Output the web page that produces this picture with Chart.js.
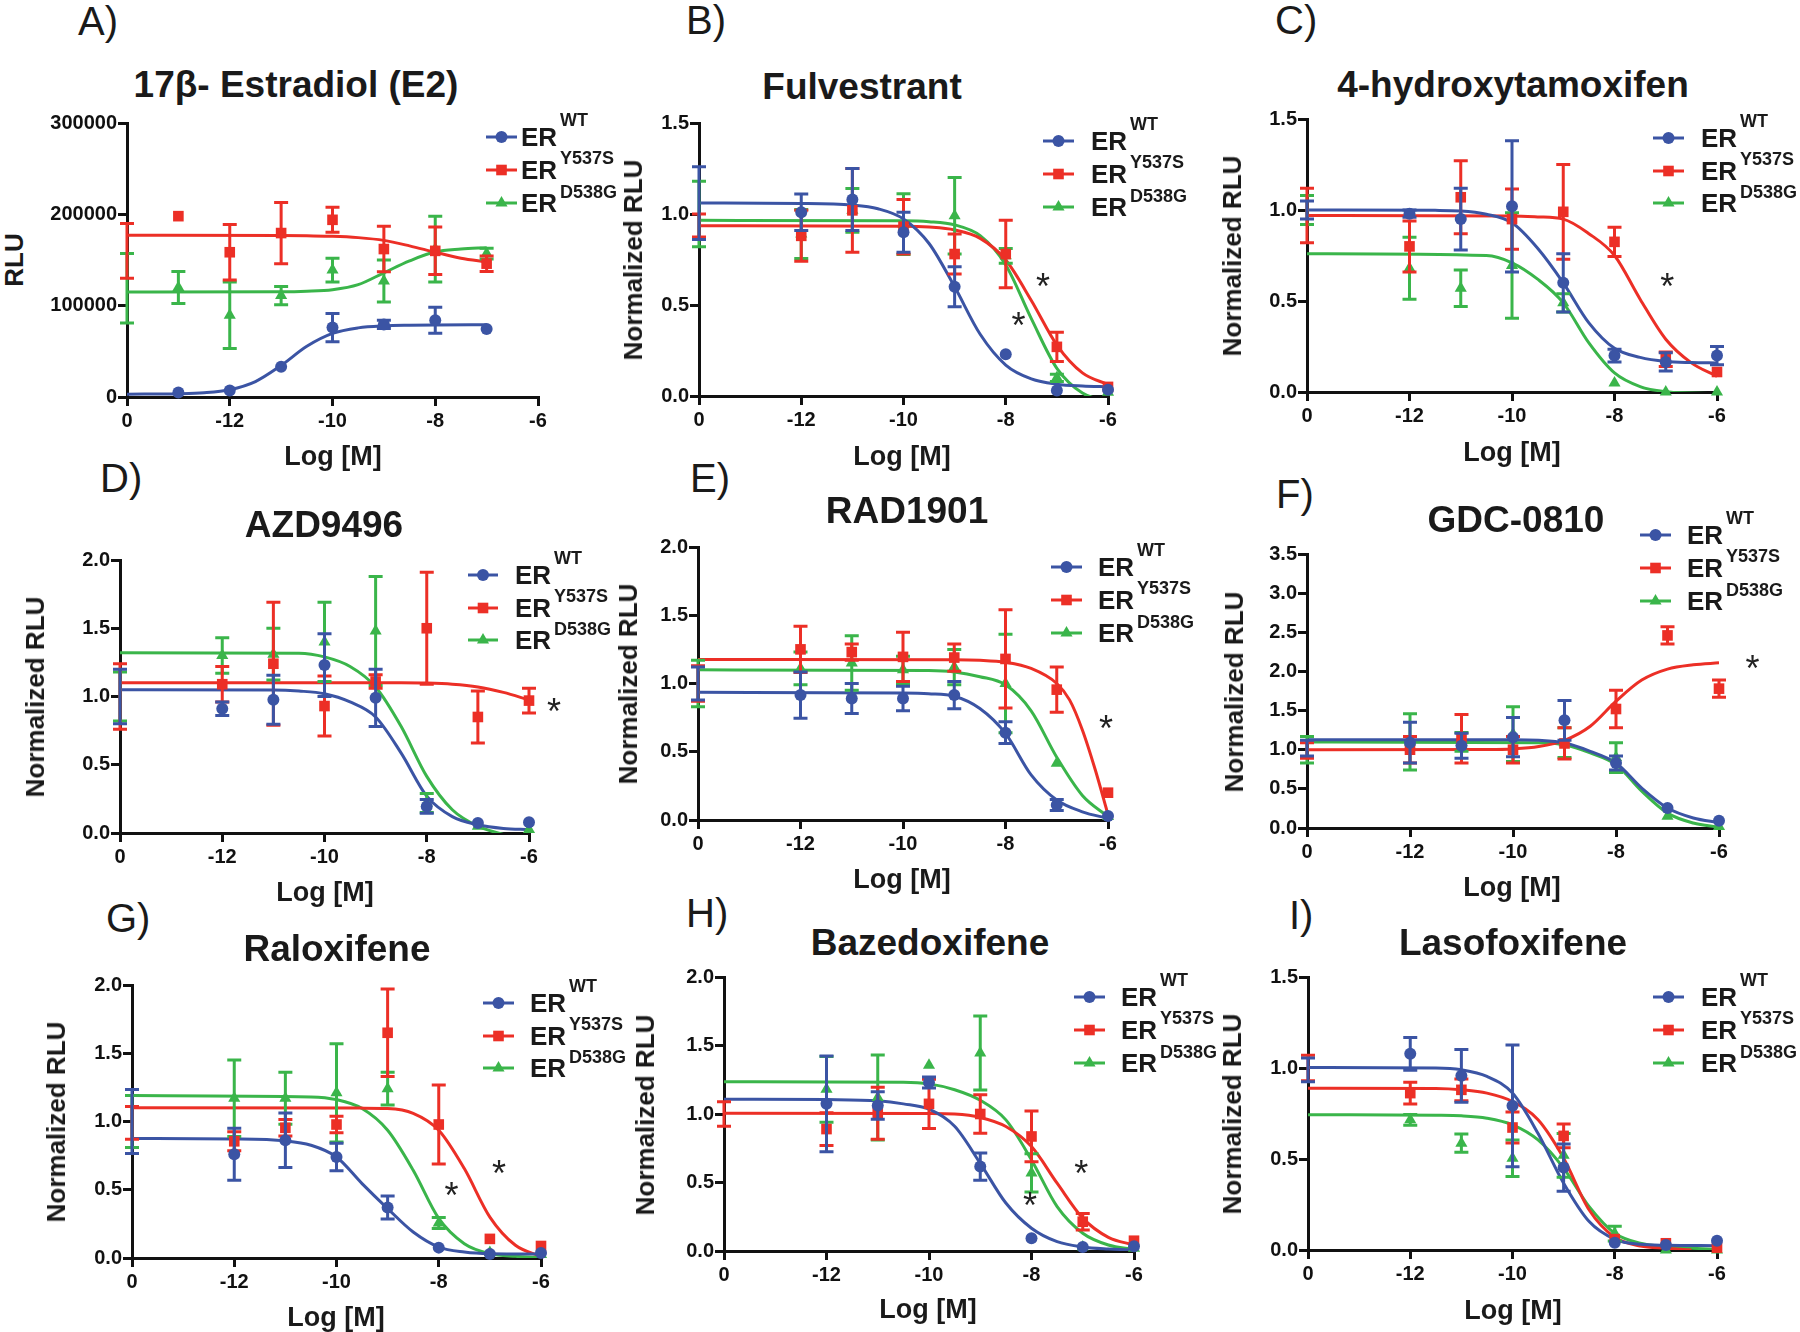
<!DOCTYPE html>
<html>
<head>
<meta charset="utf-8">
<script src="https://cdn.jsdelivr.net/npm/chart.js@4.4.0/dist/chart.umd.min.js"></script>
<style>
body { margin: 0; background: #fff; }
#page { position: relative; width: 1800px; height: 1332px; overflow: hidden;
        font-family: "Liberation Sans", Arial, sans-serif; color: #1a1a1a; }
canvas { position: absolute; }
.t { position: absolute; white-space: nowrap; transform: translate(-50%, -50%); font-weight: bold; line-height: 1; }
.ttl { font-size: 37px; }
.ax { font-size: 27px; }
.ay { font-size: 26px; transform: translate(-50%, -50%) rotate(-90deg); }
.let { position: absolute; font-size: 40px; line-height: 1; transform: translateY(-50%); white-space: nowrap; }
.er { position: absolute; font-size: 26px; font-weight: bold; line-height: 1; transform: translateY(-50%); }
.sup { position: absolute; font-size: 18px; font-weight: bold; line-height: 1; transform: translateY(-50%); white-space: nowrap; }
svg { position: absolute; overflow: visible; }
</style>
</head>
<body>
<div id="page"></div>
<script>
// x positions: -14 stands for the vehicle ("0") point
const xA = [-14, -13, -12, -11, -10, -9, -8, -7];
const xStd = [-14, -12, -11, -10, -9, -8, -7, -6];
const xTicks = [-14, -12, -10, -8, -6];
const xTickText = ['0', '-12', '-10', '-8', '-6'];
const yTicksRLU = [0, 100000, 200000, 300000];
const yTicks15 = [0, 0.5, 1, 1.5];
const yTicks20 = [0, 0.5, 1, 1.5, 2];
const yTicks35 = [0, 0.5, 1, 1.5, 2, 2.5, 3, 3.5];

const seriesSup = ['WT', 'Y537S', 'D538G'];

// A) 17b-estradiol
const aWT = [3700, 5000, 7000, 33000, 76000, 79500, 84000, 74500];
const aWTerr = [0, 0, 0, 0, 15500, 4500, 14300, 0];
const aYS = [160000, 198000, 158500, 179500, 194000, 162000, 160000, 146000];
const aYSerr = [30000, 0, 30500, 33500, 13700, 25000, 26000, 8500];
const aDG = [119000, 120000, 89500, 111000, 139000, 127000, 162000, 157000];
const aDGerr = [38000, 17500, 36500, 10000, 13000, 23000, 36000, 6000];
const aWTfit = [[-14, 3050], [-13, 3550], [-12.5, 4650], [-12, 8000], [-11.5, 16900], [-11, 34500], [-10.5, 55500], [-10, 69600], [-9.5, 75700], [-9, 77900], [-8.5, 78600], [-8, 78900], [-7, 79000]];
const aYSfit = [[-14, 177000], [-11, 176800], [-10.5, 176500], [-10, 176000], [-9.5, 174500], [-9, 171500], [-8.5, 165500], [-8, 158500], [-7.5, 152000], [-7, 148000]];
const aDGfit = [[-14, 115000], [-11, 115200], [-10.5, 115800], [-10, 117500], [-9.5, 123000], [-9, 136000], [-8.5, 149000], [-8, 159000], [-7.5, 162000], [-7, 163500]];

// B) Fulvestrant
const bWT = [1.06, 1.01, 1.08, 0.90, 0.60, 0.23, 0.03, 0.035];
const bWTerr = [0.2, 0.10, 0.17, 0.11, 0.11, 0, 0, 0];
const bYS = [0.937, 0.88, 1.02, 0.93, 0.78, 0.78, 0.27, 0.05];
const bYSerr = [0.063, 0.14, 0.23, 0.15, 0.11, 0.185, 0.08, 0];
const bDG = [1.0, 0.89, 1.02, 0.944, 0.99, 0.77, 0.10, 0.02];
const bDGerr = [0.18, 0.135, 0.12, 0.167, 0.21, 0.04, 0.02, 0];
const bWTfit = [[-14, 1.06], [-12, 1.058], [-11, 1.049], [-10.5, 1.029], [-10, 0.973], [-9.5, 0.838], [-9, 0.60], [-8.5, 0.339], [-8, 0.17], [-7.5, 0.094], [-7, 0.065], [-6.5, 0.055], [-6, 0.051]];
const bYSfit = [[-14, 0.935], [-10, 0.933], [-9.5, 0.928], [-9, 0.912], [-8.5, 0.866], [-8, 0.747], [-7.5, 0.525], [-7, 0.28], [-6.5, 0.127], [-6, 0.063]];
const bDGfit = [[-14, 0.965], [-10, 0.963], [-9.5, 0.958], [-9, 0.94], [-8.5, 0.881], [-8, 0.72], [-7.5, 0.425], [-7, 0.152], [-6.5, 0.016], [-6, -0.03]];

// C) 4-hydroxytamoxifen
const cWT = [1.0, 0.98, 0.95, 1.02, 0.60, 0.20, 0.165, 0.20];
const cWTerr = [0.05, 0.02, 0.17, 0.36, 0.16, 0.035, 0.05, 0.05];
const cYS = [0.97, 0.80, 1.07, 0.95, 0.99, 0.825, 0.18, 0.11];
const cYSerr = [0.15, 0.14, 0.2, 0.165, 0.26, 0.08, 0.04, 0];
const cDG = [1.0, 0.68, 0.57, 0.695, 0.49, 0.05, 0.0, 0.0];
const cDGerr = [0.08, 0.17, 0.1, 0.29, 0.05, 0, 0, 0];
const cWTfit = [[-14, 1.0], [-11.5, 0.998], [-11, 0.995], [-10.5, 0.977], [-10, 0.93], [-9.5, 0.79], [-9, 0.60], [-8.5, 0.38], [-8, 0.24], [-7.5, 0.19], [-7, 0.168], [-6.5, 0.162], [-6, 0.16]];
const cYSfit = [[-14, 0.97], [-10, 0.967], [-9.5, 0.962], [-9, 0.95], [-8.5, 0.87], [-8, 0.75], [-7.5, 0.51], [-7, 0.29], [-6.5, 0.16], [-6, 0.086]];
const cDGfit = [[-14, 0.76], [-10.5, 0.75], [-10, 0.71], [-9.5, 0.62], [-9, 0.49], [-8.5, 0.27], [-8, 0.105], [-7.5, 0.03], [-7, 0.002], [-6.5, -0.005], [-6, -0.01]];

// D) AZD9496
const dWT = [1.0, 0.91, 0.976, 1.23, 0.99, 0.195, 0.073, 0.078];
const dWTerr = [0.2, 0.05, 0.18, 0.23, 0.21, 0.05, 0, 0];
const dYS = [1.0, 1.09, 1.24, 0.93, 1.11, 1.50, 0.85, 0.97];
const dYSerr = [0.24, 0.13, 0.45, 0.22, 0.05, 0.41, 0.19, 0.09];
const dDG = [1.0, 1.30, 1.31, 1.40, 1.48, 0.22, 0.05, 0.025];
const dDGerr = [0.18, 0.13, 0.19, 0.29, 0.40, 0.07, 0, 0];
const dWTfit = [[-14, 1.05], [-11, 1.048], [-10.5, 1.04], [-10, 1.02], [-9.5, 0.96], [-9, 0.85], [-8.5, 0.585], [-8, 0.27], [-7.5, 0.12], [-7, 0.06], [-6.5, 0.033], [-6, 0.025]];
const dYSfit = [[-14, 1.10], [-8.5, 1.10], [-8, 1.098], [-7.5, 1.09], [-7, 1.07], [-6.5, 1.03], [-6, 0.975]];
const dDGfit = [[-14, 1.32], [-10.5, 1.317], [-10, 1.29], [-9.5, 1.22], [-9, 1.07], [-8.5, 0.78], [-8, 0.415], [-7.5, 0.17], [-7, 0.05], [-6.5, -0.01], [-6, -0.04]];

// E) RAD1901
const eWT = [1.0, 0.915, 0.89, 0.89, 0.915, 0.64, 0.11, 0.03];
const eWTerr = [0.12, 0.17, 0.11, 0.09, 0.1, 0.08, 0.04, 0];
const eYS = [1.0, 1.25, 1.23, 1.195, 1.19, 1.18, 0.955, 0.20];
const eYSerr = [0.13, 0.17, 0.06, 0.18, 0.1, 0.36, 0.165, 0];
const eDG = [1.0, 1.11, 1.15, 1.10, 1.12, 1.0, 0.415, 0.025];
const eDGerr = [0.17, 0.12, 0.2, 0.1, 0.13, 0.36, 0, 0];
const eWTfit = [[-14, 0.935], [-10, 0.93], [-9.5, 0.925], [-9, 0.907], [-8.5, 0.817], [-8, 0.634], [-7.5, 0.33], [-7, 0.146], [-6.5, 0.06], [-6, 0.012]];
const eYSfit = [[-14, 1.175], [-9, 1.174], [-8.5, 1.17], [-8, 1.155], [-7.5, 1.11], [-7, 1.0], [-6.75, 0.88], [-6.5, 0.66], [-6.25, 0.37], [-6, 0.04]];
const eDGfit = [[-14, 1.10], [-9.5, 1.095], [-9, 1.085], [-8.5, 1.05], [-8, 0.99], [-7.5, 0.80], [-7, 0.46], [-6.5, 0.18], [-6, 0.025]];

// F) GDC-0810
const fWT = [1.02, 1.09, 1.05, 1.16, 1.375, 0.83, 0.255, 0.094];
const fWTerr = [0.1, 0.26, 0.16, 0.25, 0.255, 0.09, 0, 0];
const fYS = [0.99, 1.0, 1.14, 1.0, 1.08, 1.52, 2.46, 1.78];
const fYSerr = [0.1, 0.17, 0.31, 0.17, 0.2, 0.24, 0.11, 0.11];
const fDG = [1.0, 1.1, 1.1, 1.2, 1.09, 0.9, 0.15, 0.02];
const fDGerr = [0.17, 0.36, 0.12, 0.35, 0.19, 0.19, 0, 0];
const fWTfit = [[-14, 1.128], [-10, 1.128], [-9.5, 1.12], [-9, 1.085], [-8.5, 0.98], [-8, 0.83], [-7.5, 0.51], [-7, 0.255], [-6.5, 0.128], [-6, 0.07]];
const fYSfit = [[-14, 1.0], [-10.5, 1.003], [-10, 1.01], [-9.5, 1.04], [-9, 1.12], [-8.5, 1.30], [-8, 1.62], [-7.5, 1.89], [-7, 2.03], [-6.5, 2.085], [-6, 2.11]];
const fDGfit = [[-14, 1.098], [-9.5, 1.09], [-9, 1.064], [-8.5, 0.96], [-8, 0.81], [-7.5, 0.47], [-7, 0.19], [-6.5, 0.064], [-6, 0.01]];

// G) Raloxifene
const gWT = [1.0, 0.76, 0.863, 0.74, 0.37, 0.076, 0.03, 0.037];
const gWTerr = [0.235, 0.19, 0.2, 0.1, 0.085, 0, 0, 0];
const gYS = [0.99, 0.855, 0.954, 0.978, 1.65, 0.978, 0.14, 0.088];
const gYSerr = [0.12, 0.07, 0.06, 0.06, 0.32, 0.29, 0, 0];
const gDG = [1.0, 1.17, 1.17, 1.21, 1.24, 0.257, 0.04, 0.025];
const gDGerr = [0.19, 0.28, 0.19, 0.36, 0.12, 0.04, 0, 0];
const gWTfit = [[-14, 0.875], [-12, 0.872], [-11, 0.858], [-10.5, 0.826], [-10, 0.74], [-9.5, 0.545], [-9, 0.362], [-8.5, 0.19], [-8, 0.08], [-7.5, 0.044], [-7, 0.032], [-6, 0.03]];
const gYSfit = [[-14, 1.10], [-9.5, 1.098], [-9, 1.095], [-8.5, 1.06], [-8, 0.936], [-7.5, 0.655], [-7, 0.30], [-6.5, 0.093], [-6, 0.012]];
const gDGfit = [[-14, 1.19], [-10.5, 1.18], [-10, 1.16], [-9.5, 1.095], [-9, 0.936], [-8.5, 0.643], [-8, 0.29], [-7.5, 0.105], [-7, 0.032], [-6.5, 0.012], [-6, 0.003]];

// H) Bazedoxifene
const hWT = [1.1, 1.074, 1.062, 1.23, 0.616, 0.093, 0.03, 0.035];
const hWTerr = [0, 0.35, 0.1, 0.04, 0.1, 0, 0, 0];
const hYS = [1.0, 0.89, 1.006, 1.074, 1.0, 0.836, 0.214, 0.075];
const hYSerr = [0.09, 0.12, 0.19, 0.18, 0.14, 0.185, 0.06, 0];
const hDG = [1.2, 1.18, 1.12, 1.355, 1.445, 0.57, 0.03, 0.02];
const hDGerr = [0, 0.24, 0.31, 0, 0.27, 0.14, 0, 0];
const hWTfit = [[-14, 1.108], [-12, 1.105], [-11, 1.096], [-10.5, 1.074], [-10, 1.035], [-9.5, 0.91], [-9, 0.64], [-8.5, 0.35], [-8, 0.166], [-7.5, 0.068], [-7, 0.03], [-6.5, 0.015], [-6, 0.007]];
const hYSfit = [[-14, 1.006], [-10, 1.004], [-9.5, 1.0], [-9, 0.975], [-8.5, 0.909], [-8, 0.762], [-7.5, 0.495], [-7, 0.24], [-6.5, 0.10], [-6, 0.044]];
const hDGfit = [[-14, 1.235], [-10.5, 1.232], [-10, 1.22], [-9.5, 1.177], [-9, 1.10], [-8.5, 0.957], [-8, 0.665], [-7.5, 0.324], [-7, 0.13], [-6.5, 0.044], [-6, 0.012]];

// I) Lasofoxifene
const iWT = [0.99, 1.078, 0.957, 0.792, 0.453, 0.04, 0.028, 0.051];
const iWTerr = [0.065, 0.09, 0.145, 0.335, 0.13, 0, 0, 0];
const iYS = [1.0, 0.862, 0.88, 0.673, 0.627, 0.06, 0.037, 0.013];
const iYSerr = [0.07, 0.06, 0.06, 0.085, 0.065, 0, 0, 0];
const iDG = [0.75, 0.715, 0.587, 0.504, 0.52, 0.09, 0.0, 0.0];
const iDGerr = [0, 0.03, 0.05, 0.1, 0.12, 0.04, 0, 0];
const iWTfit = [[-14, 1.003], [-11.5, 1.0], [-11, 0.99], [-10.5, 0.954], [-10, 0.862], [-9.5, 0.64], [-9, 0.367], [-8.5, 0.156], [-8, 0.059], [-7.5, 0.031], [-7, 0.026], [-6, 0.024]];
const iYSfit = [[-14, 0.889], [-11.5, 0.887], [-11, 0.88], [-10.5, 0.862], [-10, 0.816], [-9.5, 0.715], [-9, 0.504], [-8.5, 0.22], [-8, 0.07], [-7.5, 0.022], [-7, 0.01], [-6.5, 0.0]];
const iDGfit = [[-14, 0.743], [-11.5, 0.74], [-11, 0.737], [-10.5, 0.724], [-10, 0.688], [-9.5, 0.605], [-9, 0.45], [-8.5, 0.238], [-8, 0.092], [-7.5, 0.037], [-7, 0.018], [-6.5, 0.01], [-6, 0.004]];

// significance marks, in data coordinates
const bStars = [[-7.27, 0.645], [-7.75, 0.434]];
const cStars = [[-6.97, 0.626]];
const dStars = [[-5.51, 0.95]];
const eStars = [[-6.04, 0.73]];
const fStars = [[-5.35, 2.14]];
const gStars = [[-7.75, 0.52], [-6.82, 0.675]];
const hStars = [[-8.03, 0.39], [-7.03, 0.624]];

const colors = ['#3b54a4', '#ec2f26', '#3ab54a'];
const shapes = ['circle', 'rect', 'triangle'];
const radii = [6, 7.5, 7];

const panels = [
  { letter: 'A)', title: '17β- Estradiol (E2)', ylab: 'RLU', x: xA, yTicks: yTicksRLU, dec: -1,
    means: [aWT, aYS, aDG], errs: [aWTerr, aYSerr, aDGerr], fits: [aWTfit, aYSfit, aDGfit], stars: [],
    area: [127, 538, 123, 397], tpos: [296, 84], lpos: [78, 21], ypos: [14, 260], xpos: [333, 456],
    leg: { x0: 486, x1: 517, er: 521, y: 137, gap: 33 } },
  { letter: 'B)', title: 'Fulvestrant', ylab: 'Normalized RLU', x: xStd, yTicks: yTicks15, dec: 1,
    means: [bWT, bYS, bDG], errs: [bWTerr, bYSerr, bDGerr], fits: [bWTfit, bYSfit, bDGfit], stars: bStars,
    area: [699, 1108, 123, 396], tpos: [862, 86], lpos: [686, 20], ypos: [633, 260], xpos: [902, 456],
    leg: { x0: 1043, x1: 1074, er: 1091, y: 141, gap: 33 } },
  { letter: 'C)', title: '4-hydroxytamoxifen', ylab: 'Normalized RLU', x: xStd, yTicks: yTicks15, dec: 1,
    means: [cWT, cYS, cDG], errs: [cWTerr, cYSerr, cDGerr], fits: [cWTfit, cYSfit, cDGfit], stars: cStars,
    area: [1307, 1717, 119, 392], tpos: [1513, 84], lpos: [1275, 20], ypos: [1232, 256], xpos: [1512, 452],
    leg: { x0: 1653, x1: 1684, er: 1701, y: 138, gap: 32.5 } },
  { letter: 'D)', title: 'AZD9496', ylab: 'Normalized RLU', x: xStd, yTicks: yTicks20, dec: 1,
    means: [dWT, dYS, dDG], errs: [dWTerr, dYSerr, dDGerr], fits: [dWTfit, dYSfit, dDGfit], stars: dStars,
    area: [120, 529, 560, 833], tpos: [324, 524], lpos: [100, 478], ypos: [35, 697], xpos: [325, 892],
    leg: { x0: 468, x1: 498, er: 515, y: 575, gap: 32.5 } },
  { letter: 'E)', title: 'RAD1901', ylab: 'Normalized RLU', x: xStd, yTicks: yTicks20, dec: 1,
    means: [eWT, eYS, eDG], errs: [eWTerr, eYSerr, eDGerr], fits: [eWTfit, eYSfit, eDGfit], stars: eStars,
    area: [698, 1108, 547, 820], tpos: [907, 510], lpos: [690, 478], ypos: [628, 684], xpos: [902, 879],
    leg: { x0: 1051, x1: 1082, er: 1098, y: 567, gap: 33 } },
  { letter: 'F)', title: 'GDC-0810', ylab: 'Normalized RLU', x: xStd, yTicks: yTicks35, dec: 1,
    means: [fWT, fYS, fDG], errs: [fWTerr, fYSerr, fDGerr], fits: [fWTfit, fYSfit, fDGfit], stars: fStars,
    area: [1307, 1719, 554, 828], tpos: [1516, 519], lpos: [1276, 494], ypos: [1234, 692], xpos: [1512, 887],
    leg: { x0: 1640, x1: 1671, er: 1687, y: 535, gap: 33 } },
  { letter: 'G)', title: 'Raloxifene', ylab: 'Normalized RLU', x: xStd, yTicks: yTicks20, dec: 1,
    means: [gWT, gYS, gDG], errs: [gWTerr, gYSerr, gDGerr], fits: [gWTfit, gYSfit, gDGfit], stars: gStars,
    area: [132, 541, 985, 1258], tpos: [337, 948], lpos: [106, 918], ypos: [56, 1122], xpos: [336, 1317],
    leg: { x0: 483, x1: 514, er: 530, y: 1003, gap: 32.5 } },
  { letter: 'H)', title: 'Bazedoxifene', ylab: 'Normalized RLU', x: xStd, yTicks: yTicks20, dec: 1,
    means: [hWT, hYS, hDG], errs: [hWTerr, hYSerr, hDGerr], fits: [hWTfit, hYSfit, hDGfit], stars: hStars,
    area: [724, 1134, 977, 1251], tpos: [930, 942], lpos: [686, 913], ypos: [645, 1115], xpos: [928, 1309],
    leg: { x0: 1074, x1: 1105, er: 1121, y: 997, gap: 33 } },
  { letter: 'I)', title: 'Lasofoxifene', ylab: 'Normalized RLU', x: xStd, yTicks: yTicks15, dec: 1,
    means: [iWT, iYS, iDG], errs: [iWTerr, iYSerr, iDGerr], fits: [iWTfit, iYSfit, iDGfit], stars: [],
    area: [1308, 1717, 977, 1250], tpos: [1513, 942], lpos: [1289, 915], ypos: [1232, 1114], xpos: [1513, 1310],
    leg: { x0: 1653, x1: 1684, er: 1701, y: 997, gap: 33 } }
];

// error bars under each series' own markers
const errorBars = {
  id: 'errorBars',
  beforeDatasetDraw(chart, args) {
    const ds = chart.data.datasets[args.index];
    if (!ds.errors) return;
    const ys = chart.scales.y, c = chart.ctx;
    c.save();
    c.strokeStyle = ds.borderColor;
    c.lineWidth = 3;
    ds.data.forEach((pt, j) => {
      const e = ds.errors[j];
      if (!e) return;
      const px = args.meta.data[j].x;
      const top = ys.getPixelForValue(pt.y + e), bot = ys.getPixelForValue(pt.y - e);
      c.beginPath();
      c.moveTo(px, top); c.lineTo(px, bot);
      c.moveTo(px - 7, top); c.lineTo(px + 7, top);
      c.moveTo(px - 7, bot); c.lineTo(px + 7, bot);
      c.stroke();
    });
    c.restore();
  }
};

const starMarks = {
  id: 'starMarks',
  afterDatasetsDraw(chart, args, opts) {
    const c = chart.ctx;
    c.save();
    c.font = '36px "Liberation Sans", Arial, sans-serif';
    c.fillStyle = '#222';
    c.textAlign = 'center';
    c.textBaseline = 'alphabetic';
    (opts.marks || []).forEach(([x, y]) => {
      c.fillText('*', chart.scales.x.getPixelForValue(x), chart.scales.y.getPixelForValue(y) + 0.57 * 36);
    });
    c.restore();
  }
};

const page = document.getElementById('page');

function addText(cls, text, x, y) {
  const d = document.createElement('div');
  d.className = cls;
  d.textContent = text;
  d.style.left = x + 'px';
  d.style.top = y + 'px';
  page.appendChild(d);
  return d;
}

function markerSvg(i, cx, cy) {
  const col = colors[i];
  if (shapes[i] === 'circle') return `<circle cx="${cx}" cy="${cy}" r="6" fill="${col}"/>`;
  if (shapes[i] === 'rect') return `<rect x="${cx - 5.3}" y="${cy - 5.3}" width="10.6" height="10.6" fill="${col}"/>`;
  return `<polygon points="${cx},${cy - 7} ${cx + 6.06},${cy + 3.5} ${cx - 6.06},${cy + 3.5}" fill="${col}"/>`;
}

const supLift = [17, 12, 11];

function drawLegend(leg) {
  seriesSup.forEach((sup, i) => {
    const y = leg.y + i * leg.gap;
    const w = leg.x1 - leg.x0;
    const svg = document.createElementNS('http://www.w3.org/2000/svg', 'svg');
    svg.setAttribute('width', w);
    svg.setAttribute('height', 20);
    svg.style.left = leg.x0 + 'px';
    svg.style.top = (y - 10) + 'px';
    svg.innerHTML = `<line x1="0" y1="10" x2="${w}" y2="10" stroke="${colors[i]}" stroke-width="3"/>` + markerSvg(i, w / 2, 10);
    page.appendChild(svg);
    const er = document.createElement('div');
    er.className = 'er';
    er.textContent = 'ER';
    er.style.left = leg.er + 'px';
    er.style.top = y + 'px';
    page.appendChild(er);
    const s = document.createElement('div');
    s.className = 'sup';
    s.textContent = sup;
    s.style.left = (leg.er + 39) + 'px';
    s.style.top = (y - supLift[i]) + 'px';
    page.appendChild(s);
  });
}

function makePanel(p) {
  const [L, R, T, B] = p.area;
  const padL = 80, padT = 14, padR = 50, padB = 46;
  const w = Math.round(R - L) + padL + padR, h = Math.round(B - T) + padT + padB;
  const cv = document.createElement('canvas');
  cv.width = w; cv.height = h;
  cv.style.left = (L - padL) + 'px';
  cv.style.top = (T - padT) + 'px';
  page.appendChild(cv);

  const datasets = [];
  p.means.forEach((m, i) => {
    datasets.push({
      data: p.x.map((x, j) => ({ x: x, y: m[j] })),
      errors: p.errs[i],
      pointStyle: shapes[i],
      pointRadius: ctx => (ctx.raw && ctx.raw.x === -14 ? 0 : radii[i]),
      backgroundColor: colors[i],
      borderColor: colors[i],
      borderWidth: 0,
      clip: false,
      order: i
    });
  });
  p.fits.forEach((f, i) => {
    datasets.push({
      type: 'line',
      data: f.map(([x, y]) => ({ x: x, y: y })),
      borderColor: colors[i],
      borderWidth: 3,
      pointRadius: 0,
      cubicInterpolationMode: 'monotone',
      fill: false,
      order: 3 + i
    });
  });

  const yt = p.yTicks;
  const tickFont = { family: '"Liberation Sans", Arial, sans-serif', size: 20, weight: 'bold' };
  new Chart(cv, {
    type: 'scatter',
    data: { datasets: datasets },
    options: {
      responsive: false,
      animation: false,
      events: [],
      devicePixelRatio: 1,
      layout: { padding: { left: 0, top: padT, right: padR, bottom: 0 } },
      plugins: { legend: { display: false }, tooltip: { enabled: false }, starMarks: { marks: p.stars } },
      scales: {
        x: {
          type: 'linear', min: -14, max: -6,
          afterBuildTicks: s => { s.ticks = xTicks.map(v => ({ value: v })); },
          afterFit: s => { s.height = padB; },
          grid: { drawOnChartArea: false, drawTicks: true, tickLength: 9, color: '#111', lineWidth: 3 },
          border: { display: true, color: '#111', width: 3 },
          ticks: { color: '#111', font: tickFont, padding: 3, maxRotation: 0,
                   callback: (v, i) => xTickText[i] }
        },
        y: {
          type: 'linear', min: yt[0], max: yt[yt.length - 1],
          afterBuildTicks: s => { s.ticks = yt.map(v => ({ value: v })); },
          afterFit: s => { s.width = padL; },
          grid: { drawOnChartArea: false, drawTicks: true, tickLength: 9, color: '#111', lineWidth: 3 },
          border: { display: true, color: '#111', width: 3 },
          ticks: { color: '#111', font: tickFont, padding: 1,
                   callback: v => (p.dec < 0 ? String(v) : Number(v).toFixed(p.dec)) }
        }
      }
    },
    plugins: [errorBars, starMarks]
  });

  const lt = document.createElement('div');
  lt.className = 'let';
  lt.textContent = p.letter;
  lt.style.left = p.lpos[0] + 'px';
  lt.style.top = p.lpos[1] + 'px';
  page.appendChild(lt);
  addText('t ttl', p.title, p.tpos[0], p.tpos[1]);
  addText('t ay', p.ylab, p.ypos[0], p.ypos[1]);
  addText('t ax', 'Log [M]', p.xpos[0], p.xpos[1]);
  drawLegend(p.leg);
}

panels.forEach(makePanel);
</script>
</body>
</html>
